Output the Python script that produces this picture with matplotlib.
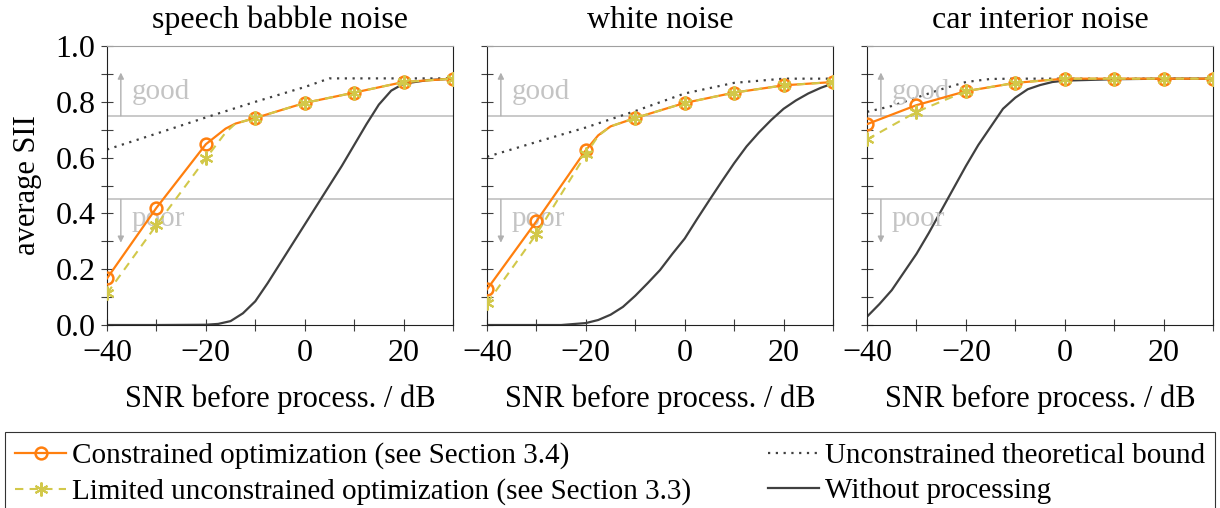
import matplotlib
matplotlib.use("Agg")
import matplotlib.pyplot as plt
from matplotlib.ticker import MultipleLocator, FormatStrFormatter
from matplotlib.lines import Line2D

plt.rcParams['font.family'] = ['Liberation Serif', 'DejaVu Serif']
plt.rcParams['font.size'] = 22

titles = ['speech babble noise', 'white noise', 'car interior noise']

# constrained optimization (markers at multiples of 10 dB)
con_x = [
    [-40, -30, -20, -16, -14, -10, 0, 10, 20, 30],
    [-40, -30, -20, -17.5, -15, -10, 0, 10, 20, 30],
    [-40, -30, -20, -10, 0, 10, 20, 30],
]
con_y = [
    [0.167, 0.42, 0.648, 0.704, 0.722, 0.742, 0.796, 0.833, 0.871, 0.883],
    [0.128, 0.372, 0.627, 0.68, 0.712, 0.742, 0.796, 0.833, 0.859, 0.871],
    [0.72, 0.788, 0.838, 0.868, 0.883, 0.883, 0.883, 0.883],
]

# limited unconstrained optimization
lim_x = con_x
lim_y = [
    [0.113, 0.358, 0.597, 0.69, 0.722, 0.742, 0.796, 0.833, 0.871, 0.883],
    [0.078, 0.326, 0.612, 0.678, 0.712, 0.742, 0.796, 0.833, 0.859, 0.871],
    [0.665, 0.764, 0.838, 0.868, 0.883, 0.883, 0.883, 0.883],
]

# unconstrained theoretical bound
bnd_x = [
    [-40, -30, -20, -10, 0, 5, 10, 20, 30],
    [-40, -30, -20, -10, 0, 10, 20, 30],
    [-40, -35, -30, -25, -20, -15, -10, 0, 10, 20, 30],
]
bnd_y = [
    [0.629, 0.686, 0.744, 0.8, 0.853, 0.884, 0.884, 0.884, 0.884],
    [0.603, 0.656, 0.708, 0.767, 0.83, 0.868, 0.883, 0.883],
    [0.764, 0.785, 0.815, 0.845, 0.871, 0.882, 0.883, 0.883, 0.883, 0.883, 0.883],
]

# without processing
raw_x = [
    [-40, -30, -20, -17.5, -15, -12.5, -10, -7.5, -5, -2.5, 0, 2.5, 5, 7.5,
     10, 12.5, 15, 17.5, 20, 25, 30],
    [-40, -30, -25, -20, -17.5, -15, -12.5, -10, -7.5, -5, -2.5, 0, 2.5, 5,
     7.5, 10, 12.5, 15, 17.5, 20, 22.5, 25, 27.5, 30],
    [-40, -37.5, -35, -32.5, -30, -27.5, -25, -22.5, -20, -17.5, -15, -12.5,
     -10, -7.5, -5, -2.5, 0, 10, 20, 30],
]
raw_y = [
    [0, 0, 0.001, 0.004, 0.014, 0.042, 0.085, 0.15, 0.22, 0.29, 0.36, 0.43,
     0.5, 0.57, 0.645, 0.72, 0.79, 0.84, 0.865, 0.878, 0.883],
    [0, 0, 0, 0.007, 0.018, 0.037, 0.065, 0.105, 0.15, 0.197, 0.255, 0.31,
     0.38, 0.448, 0.515, 0.58, 0.64, 0.69, 0.735, 0.775, 0.805, 0.83, 0.85, 0.866],
    [0.03, 0.075, 0.125, 0.19, 0.255, 0.33, 0.41, 0.49, 0.57, 0.645, 0.71,
     0.775, 0.815, 0.845, 0.86, 0.871, 0.876, 0.881, 0.883, 0.883],
]

orange = '#ff7f0e'
yellow = '#d2c84a'
dark = '#404040'
light = '#c0c0c0'

fig = plt.figure(figsize=(12.2, 5.08), dpi=100)
lefts = [0.0877, 0.3992, 0.7107]
axes = [fig.add_axes([l, 0.3602, 0.2836, 0.5492]) for l in lefts]

for i, ax in enumerate(axes):
    ax.axhline(0.75, color=light, lw=1.2, zorder=1)
    ax.axhline(0.45, color=light, lw=1.2, zorder=1)
    ax.annotate('', xy=(-37.2, 0.905), xytext=(-37.2, 0.75),
                arrowprops=dict(arrowstyle='-|>', color='#b0b0b0', lw=1,
                                mutation_scale=9, shrinkA=0, shrinkB=0))
    ax.annotate('', xy=(-37.2, 0.295), xytext=(-37.2, 0.45),
                arrowprops=dict(arrowstyle='-|>', color='#b0b0b0', lw=1,
                                mutation_scale=9, shrinkA=0, shrinkB=0))
    ax.text(-35, 0.835, 'good', color='#c4c4c4', fontsize=21, va='center')
    ax.text(-35, 0.38, 'poor', color='#c4c4c4', fontsize=21, va='center')

    ax.plot(raw_x[i], raw_y[i], color=dark, lw=1.6, zorder=2)
    ax.plot(bnd_x[i], bnd_y[i], color=dark, lw=1.6, ls=(0, (1, 2.5)), zorder=2)
    mk = [j for j, v in enumerate(con_x[i]) if v % 10 == 0]
    ax.plot(con_x[i], con_y[i], color=orange, lw=1.6, marker='o',
            markevery=mk, ms=8.5, mfc='none', mec=orange, mew=1.8, zorder=3)
    ax.plot(lim_x[i], lim_y[i], color=yellow, lw=1.5, ls=(0, (4, 3)),
            marker=(6, 2, 0), markevery=mk, ms=10, mec=yellow, mew=1.5,
            zorder=4)

    ax.set_xlim(-40, 30)
    ax.set_ylim(0, 1)
    ax.xaxis.set_major_locator(MultipleLocator(20))
    ax.xaxis.set_minor_locator(MultipleLocator(10))
    ax.yaxis.set_major_locator(MultipleLocator(0.2))
    ax.yaxis.set_minor_locator(MultipleLocator(0.1))
    ax.tick_params(which='both', direction='inout', length=8.5, width=0.8,
                   color=dark, labelsize=23, pad=4)
    ax.tick_params(axis='x', pad=6)
    ax.spines['top'].set_color('#a0a0a0')
    for s in ['left', 'right', 'bottom']:
        ax.spines[s].set_color('#202020')
    ax.set_title(titles[i], fontsize=23, pad=13)
    ax.set_xlabel('SNR before process. / dB', fontsize=22, labelpad=12)
    if i == 0:
        ax.set_ylabel('average SII', fontsize=22, labelpad=10)
        ax.yaxis.set_major_formatter(FormatStrFormatter('%.1f'))
    else:
        ax.tick_params(axis='y', labelleft=False)

handles = [
    Line2D([], [], color=orange, lw=1.6, marker='o', ms=8.5, mfc='none', mew=1.8),
    Line2D([], [], color=yellow, lw=1.5, ls=(0, (4, 3)), marker=(6, 2, 0),
           ms=10, mew=1.5),
    Line2D([], [], color=dark, lw=1.6, ls=(0, (1, 2.5))),
    Line2D([], [], color=dark, lw=1.6),
]
labels = [
    'Constrained optimization (see Section 3.4)',
    'Limited unconstrained optimization (see Section 3.3)',
    'Unconstrained theoretical bound',
    'Without processing',
]
leg = fig.legend(handles, labels, ncol=2, loc='upper left',
                 bbox_to_anchor=(0.004, 0.1496, 0.992, 0), mode='expand',
                 fontsize=21, frameon=True, fancybox=False, edgecolor='black',
                 handlelength=1.75, handletextpad=0.2, labelspacing=0.31,
                 borderpad=0.35, borderaxespad=0)
leg.get_frame().set_linewidth(0.8)

fig.savefig('out.png', dpi=100)
